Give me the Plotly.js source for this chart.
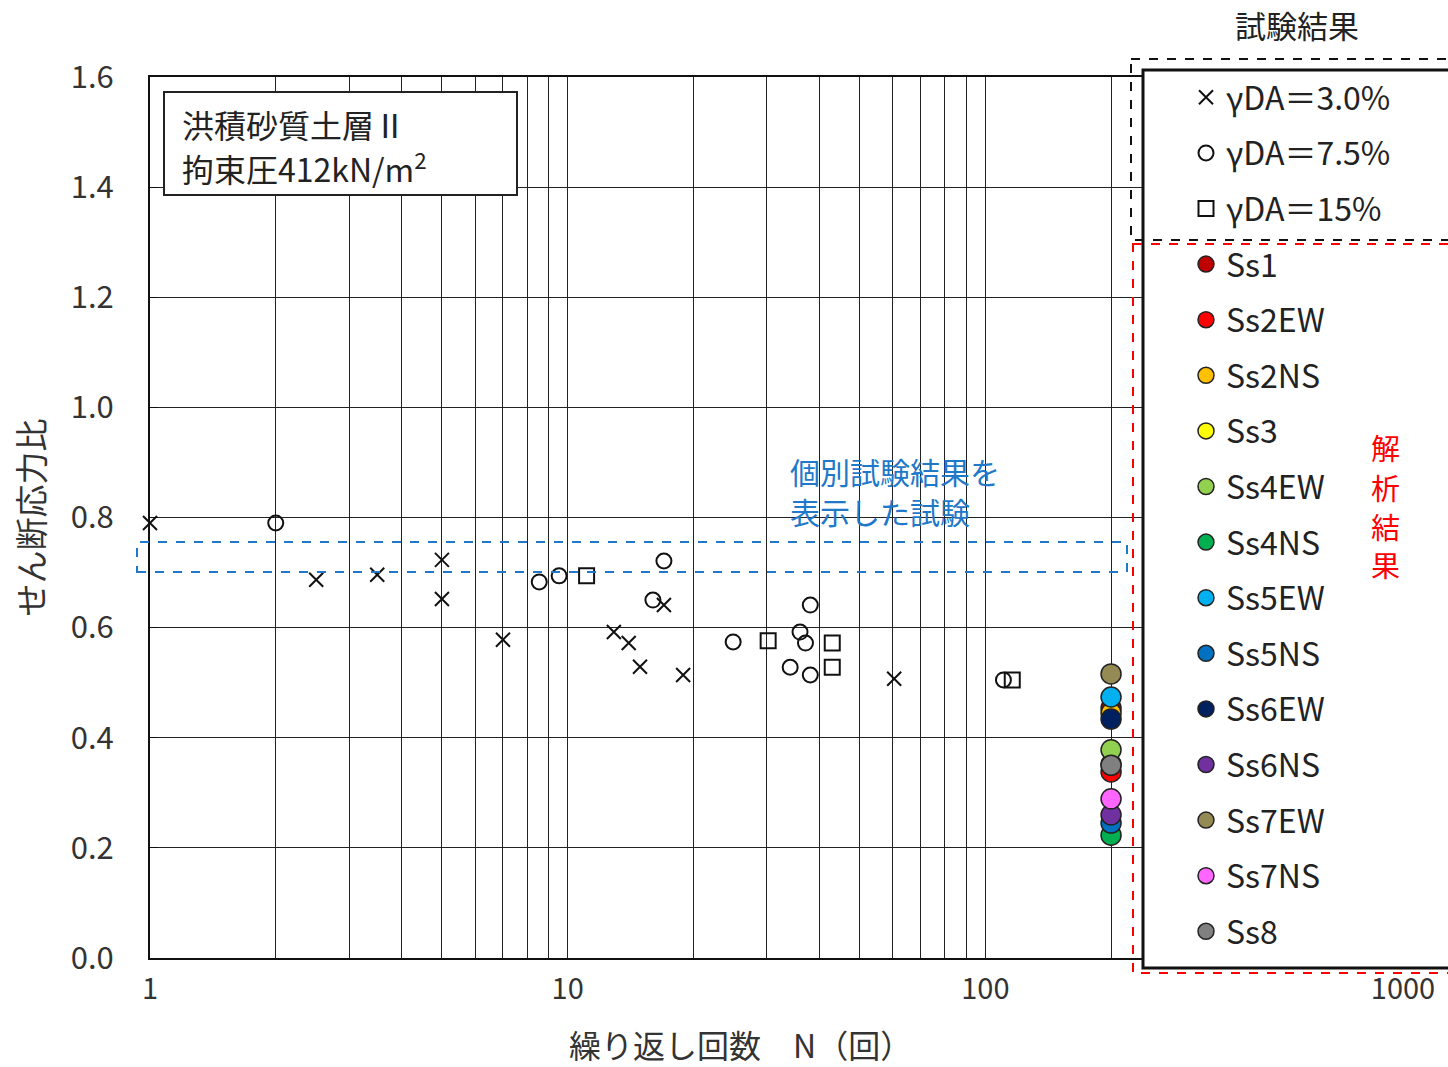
<!DOCTYPE html>
<html>
<head>
<meta charset="utf-8">
<script src="https://cdn.plot.ly/plotly-3.0.1.min.js"></script>
<style>
  body { margin: 0; background: #fff; }
  #chart { width: 1448px; height: 1067px; }
</style>
</head>
<body>
<div id="chart"></div>
<script>
// 試験結果（γDA 別）
const cross30N = [1, 2.5, 3.5, 5.0, 5.0, 7.0, 12.9, 14.0, 14.9, 17.0, 18.9, 60.5];
const cross30Y = [0.79, 0.687, 0.696, 0.723, 0.652, 0.578, 0.592, 0.572, 0.529, 0.641, 0.514, 0.507];

const circle75N = [2.0, 8.55, 9.54, 17.0, 16.0, 24.9, 36.0, 38.1, 37.1, 34.1, 38.1, 110.5];
const circle75Y = [0.790, 0.683, 0.694, 0.721, 0.650, 0.574, 0.592, 0.641, 0.572, 0.528, 0.514, 0.505];

const square15N = [11.1, 30.2, 43.0, 43.0, 116];
const square15Y = [0.694, 0.576, 0.572, 0.528, 0.505];

// 解析結果（N=200 回）
const caseNames = ['Ss1', 'Ss2EW', 'Ss2NS', 'Ss3', 'Ss4EW', 'Ss4NS', 'Ss5EW', 'Ss5NS', 'Ss6EW', 'Ss6NS', 'Ss7EW', 'Ss7NS', 'Ss8'];
const caseN = 200;
const caseRatio = [0.454, 0.338, 0.445, 0.352, 0.378, 0.223, 0.474, 0.245, 0.434, 0.260, 0.516, 0.289, 0.350];
const caseColors = ['#c00000', '#ff0000', '#ffc000', '#ffff00', '#92d050', '#00b050', '#00b0f0', '#0070c0', '#002060', '#7030a0', '#948a54', '#ff66ff', '#808080'];

// 軸目盛
const xTickVals = [1, 10, 100, 1000];
const xTickText = ['1', '10', '100', '1000'];
const yTickVals = [0, 0.2, 0.4, 0.6, 0.8, 1.0, 1.2, 1.4, 1.6];

const FONT = '"Noto Sans CJK JP", "Noto Sans", sans-serif';

const traces = [
    {
        x: cross30N, y: cross30Y, name: 'γDA＝3.0%', legendgroup: 'g1',
        type: 'scatter', mode: 'markers', cliponaxis: false,
        marker: { symbol: 'x-thin-open', size: 14, color: '#111', line: { width: 2, color: '#111' } }
    },
    {
        x: circle75N, y: circle75Y, name: 'γDA＝7.5%', legendgroup: 'g2',
        type: 'scatter', mode: 'markers', cliponaxis: false,
        marker: { symbol: 'circle-open', size: 15, color: '#111', line: { width: 2 } }
    },
    {
        x: square15N, y: square15Y, name: 'γDA＝15%', legendgroup: 'g3',
        type: 'scatter', mode: 'markers', cliponaxis: false,
        marker: { symbol: 'square-open', size: 15, color: '#111', line: { width: 2 } }
    }
];

caseNames.forEach((name, i) => {
    traces.push({
        x: [caseN], y: [caseRatio[i]], name: name, legendgroup: 'c' + i,
        type: 'scatter', mode: 'markers', cliponaxis: false,
        marker: { symbol: 'circle', size: 20, color: caseColors[i], line: { width: 1.5, color: '#222' } }
    });
});

// ピクセル→paper 座標
const px = v => (v - 150) / 1253;
const py = v => (958 - v) / 881;

function label(text, x, y, size, color, anchor) {
    return {
        xref: 'paper', yref: 'paper', x: px(x), y: py(y),
        xanchor: anchor || 'left', yanchor: 'middle', showarrow: false,
        text: text, font: { family: FONT, size: size, color: color }
    };
}

const layout = {
    width: 1448,
    height: 1067,
    margin: { l: 150, r: 45, t: 77, b: 109 },
    paper_bgcolor: '#fff',
    plot_bgcolor: '#fff',
    font: { family: FONT, color: '#222', size: 28 },
    showlegend: true,
    legend: {
        x: px(1186), y: py(70), xanchor: 'left', yanchor: 'top',
        bgcolor: 'rgba(0,0,0,0)', borderwidth: 0,
        traceorder: 'grouped', tracegroupgap: 11,
        itemsizing: 'trace', maxheight: 1000,
        font: { family: FONT, size: 32, color: '#222' }
    },
    xaxis: {
        type: 'log', range: [0, 3],
        tickvals: xTickVals, ticktext: xTickText,
        showgrid: true, gridcolor: '#222', gridwidth: 1,
        minor: { dtick: 'D1', showgrid: true, gridcolor: '#222', gridwidth: 1, ticks: '' },
        showline: true, linecolor: '#111', linewidth: 2, mirror: true,
        ticks: '', ticklabelstandoff: 4,
        zeroline: false,
        tickfont: { family: FONT, size: 29, color: '#333' }
    },
    yaxis: {
        range: [0, 1.6],
        tickvals: yTickVals, tickformat: '.1f',
        showgrid: true, gridcolor: '#222', gridwidth: 1,
        showline: true, linecolor: '#111', linewidth: 2, mirror: true,
        ticks: 'inside', ticklen: 8, tickcolor: '#111',
        ticklabelstandoff: 28,
        zeroline: false,
        tickfont: { family: FONT, size: 31, color: '#333' },
        title: { text: 'せん断応力比', font: { family: FONT, size: 33, color: '#333' }, standoff: 16 }
    },
    shapes: [
        // 地層名の枠
        {
            type: 'rect', xref: 'paper', yref: 'paper',
            x0: px(164), x1: px(517), y0: py(92), y1: py(195),
            fillcolor: '#fff', line: { color: '#222', width: 2 }
        },
        // 個別試験結果の枠
        {
            type: 'rect', xref: 'paper', yref: 'y',
            x0: px(137), x1: px(1127), y0: 0.701, y1: 0.7555,
            line: { color: '#1f78c8', width: 2, dash: 'dash' }
        },
        // 凡例の外枠
        {
            type: 'rect', xref: 'paper', yref: 'paper', layer: 'above',
            x0: px(1143), x1: px(1470), y0: py(70), y1: py(968),
            fillcolor: '#fff', line: { color: '#111', width: 3 }
        },
        // 試験結果の破線枠
        {
            type: 'rect', xref: 'paper', yref: 'paper', layer: 'above',
            x0: px(1131), x1: px(1470), y0: py(59), y1: py(240),
            line: { color: '#111', width: 2, dash: 'dash' }
        },
        // 解析結果の破線枠
        {
            type: 'rect', xref: 'paper', yref: 'paper', layer: 'above',
            x0: px(1133), x1: px(1470), y0: py(244), y1: py(973),
            line: { color: '#ff0000', width: 2, dash: 'dash' }
        }
    ],
    annotations: [
        label('洪積砂質土層Ⅱ', 180, 124, 32, '#222'),
        label('拘束圧412kN/m<sup>2</sup>', 180, 167, 32, '#222'),
        label('個別試験結果を', 788, 471, 30, '#1f78c8'),
        label('表示した試験', 788, 511, 30, '#1f78c8'),
        label('試験結果', 1297, 25, 31, '#222', 'center'),
        label('解', 1385, 447, 29, '#ff0000', 'center'),
        label('析', 1385, 487, 29, '#ff0000', 'center'),
        label('結', 1385, 526, 29, '#ff0000', 'center'),
        label('果', 1385, 564, 29, '#ff0000', 'center'),
        label('繰り返し回数　N（回）', 740, 1044, 32, '#333', 'center')
    ]
};

Plotly.newPlot('chart', traces, layout, { displayModeBar: false, staticPlot: true });
</script>
</body>
</html>
